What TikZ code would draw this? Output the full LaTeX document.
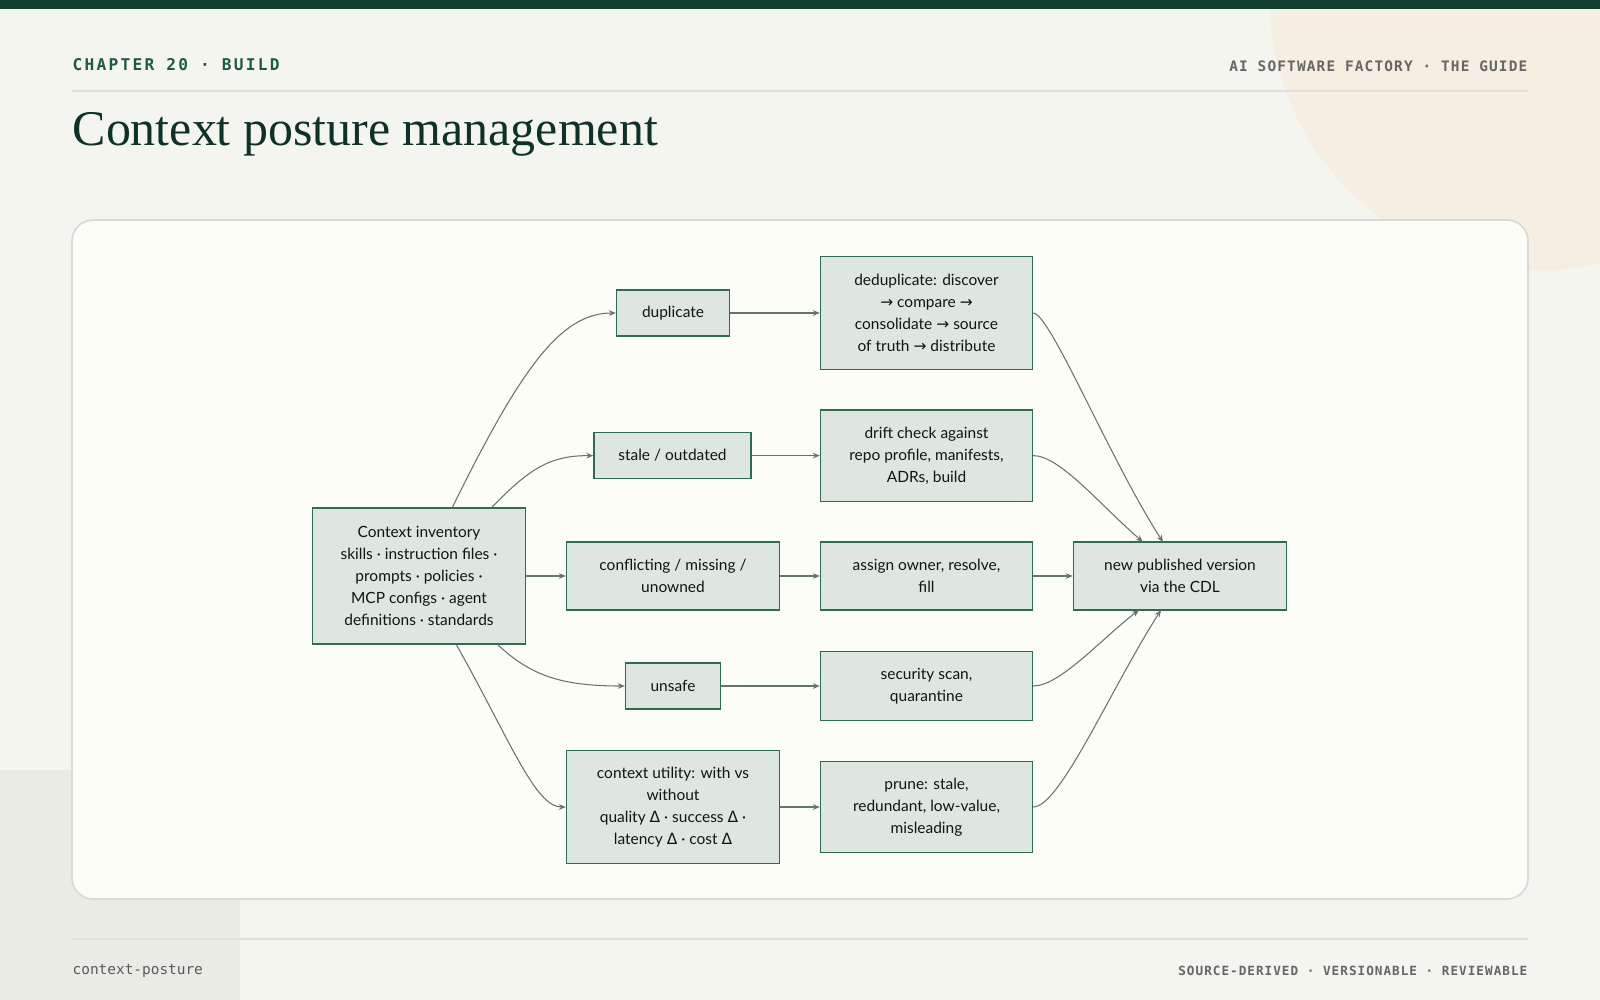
\documentclass[tikz,border=0pt]{standalone}
\usepackage{fontspec}
\setmainfont{Lato}
\newfontfamily\ttl{Liberation Serif}
\newfontfamily\mono{DejaVu Sans Mono}
\newfontfamily\monosp[LetterSpace=8]{DejaVu Sans Mono}
\newfontfamily\monosq[LetterSpace=14]{DejaVu Sans Mono}
\newfontfamily\djv{DejaVu Sans}
\usetikzlibrary{arrows.meta}
\definecolor{bg}{HTML}{F5F5F0}
\definecolor{panel}{HTML}{FDFDF8}
\definecolor{dg}{HTML}{123F30}
\definecolor{hg}{HTML}{1E5B44}
\definecolor{nf}{HTML}{DDE7DF}
\definecolor{ns}{HTML}{2F6B52}
\definecolor{ed}{HTML}{66756C}
\newcommand{\ar}{{\djv\char"2192}}
\newcommand{\dl}{{\djv\char"0394}}
\begin{document}
\begin{tikzpicture}[x=0.01cm,y=-0.01cm,
 box/.style={draw=ns,fill=nf,line width=0.35pt,align=center,font=\fontsize{4.4pt}{6.2pt}\selectfont,inner sep=0pt,text=black!92},
 e/.style={draw=ed,line width=0.3pt,-{Stealth[length=2pt,width=1.6pt]}},
 lab/.style={inner sep=0pt}]
\useasboundingbox (0,0) rectangle (1600,1000);
\fill[bg] (0,0) rectangle (1600,1000);
\begin{scope}
\clip (0,0) rectangle (1600,1000);
\fill[color=orange!6!bg] (1540,0) circle (270);
\fill[color=black!4!bg] (0,770) rectangle (240,1000);
\end{scope}
\fill[dg] (0,0) rectangle (1600,9);
\node[lab,anchor=west,text=hg,font=\monosq\bfseries\fontsize{4.6pt}{5pt}\selectfont] (h1) at (72,65) {CHAPTER 20 · BUILD};
\node[lab,anchor=east,text=black!60,font=\monosp\bfseries\fontsize{4.1pt}{5pt}\selectfont] (h2) at (1528,66) {AI SOFTWARE FACTORY · THE GUIDE};
\draw[black!12,line width=0.3pt] (72,91) -- (1528,91);
\node[lab,anchor=west,text=dg!80!black,font=\ttl\fontsize{14.2pt}{16pt}\selectfont] (t) at (72,134) {Context posture management};
\draw[fill=panel,draw=black!15,line width=0.5pt,rounded corners=6pt] (72,220) rectangle (1528,899);
\draw[black!12,line width=0.3pt] (72,939) -- (1528,939);
\node[lab,anchor=west,text=black!65,font=\mono\fontsize{4.1pt}{5pt}\selectfont] (f1) at (72,971) {context-posture};
\node[lab,anchor=east,text=black!60,font=\monosp\bfseries\fontsize{3.6pt}{5pt}\selectfont] (f2) at (1528,971) {SOURCE-DERIVED · VERSIONABLE · REVIEWABLE};

\node[box,minimum width=2.13cm,minimum height=1.36cm] (inv) at (419,576) {Context inventory\\skills · instruction files ·\\prompts · policies ·\\MCP configs · agent\\definitions · standards};
\node[box,minimum width=1.13cm,minimum height=0.46cm] (dup) at (673,313) {duplicate};
\node[box,minimum width=1.57cm,minimum height=0.46cm] (sta) at (672.5,455.6) {stale / outdated};
\node[box,minimum width=2.13cm,minimum height=0.68cm] (con) at (673,576) {conflicting / missing /\\unowned};
\node[box,minimum width=0.95cm,minimum height=0.46cm] (uns) at (673,686) {unsafe};
\node[box,minimum width=2.13cm,minimum height=1.13cm] (uti) at (673,807) {context utility: with vs\\without\\quality \dl\ · success \dl\ ·\\latency \dl\ · cost \dl};
\node[box,minimum width=2.12cm,minimum height=1.13cm] (ded) at (926.5,313) {deduplicate: discover\\\ar\ compare \ar\\consolidate \ar\ source\\of truth \ar\ distribute};
\node[box,minimum width=2.12cm,minimum height=0.91cm] (dri) at (926.5,455.6) {drift check against\\repo profile, manifests,\\ADRs, build};
\node[box,minimum width=2.12cm,minimum height=0.68cm] (asg) at (926.5,576) {assign owner, resolve,\\fill};
\node[box,minimum width=2.12cm,minimum height=0.69cm] (sec) at (926.5,686) {security scan,\\quarantine};
\node[box,minimum width=2.12cm,minimum height=0.91cm] (pru) at (926.5,807) {prune: stale,\\redundant, low-value,\\misleading};
\node[box,minimum width=2.13cm,minimum height=0.68cm] (new) at (1180,576) {new published version\\via the CDL};

\coordinate (a1) at (452,508.1);
\coordinate (a2) at (491,508.1);
\coordinate (a4) at (497,644);
\coordinate (a5) at (456,644);
\draw[e] (a1) .. controls (520,370) and (560,313) .. (dup.west);
\draw[e] (a2) .. controls (530,468) and (550,455.6) .. (sta.west);
\draw[e] (inv.east) -- (con.west);
\draw[e] (a4) .. controls (530,675) and (560,686) .. (uns.west);
\draw[e] (a5) .. controls (510,740) and (535,807) .. (uti.west);
\draw[e] (dup.east) -- (ded.west);
\draw[e] (sta.east) -- (dri.west);
\draw[e] (con.east) -- (asg.west);
\draw[e] (uns.east) -- (sec.west);
\draw[e] (uti.east) -- (pru.west);
\coordinate (b1) at (1163,542);
\coordinate (b2) at (1143,542);
\coordinate (b4) at (1139,610);
\coordinate (b5) at (1161,610);
\draw[e] (ded.east) .. controls (1050,313) and (1110,460) .. (b1);
\draw[e] (dri.east) .. controls (1060,455.6) and (1100,505) .. (b2);
\draw[e] (asg.east) -- (new.west);
\draw[e] (sec.east) .. controls (1060,686) and (1100,640) .. (b4);
\draw[e] (pru.east) .. controls (1060,807) and (1110,690) .. (b5);
\end{tikzpicture}
\end{document}
